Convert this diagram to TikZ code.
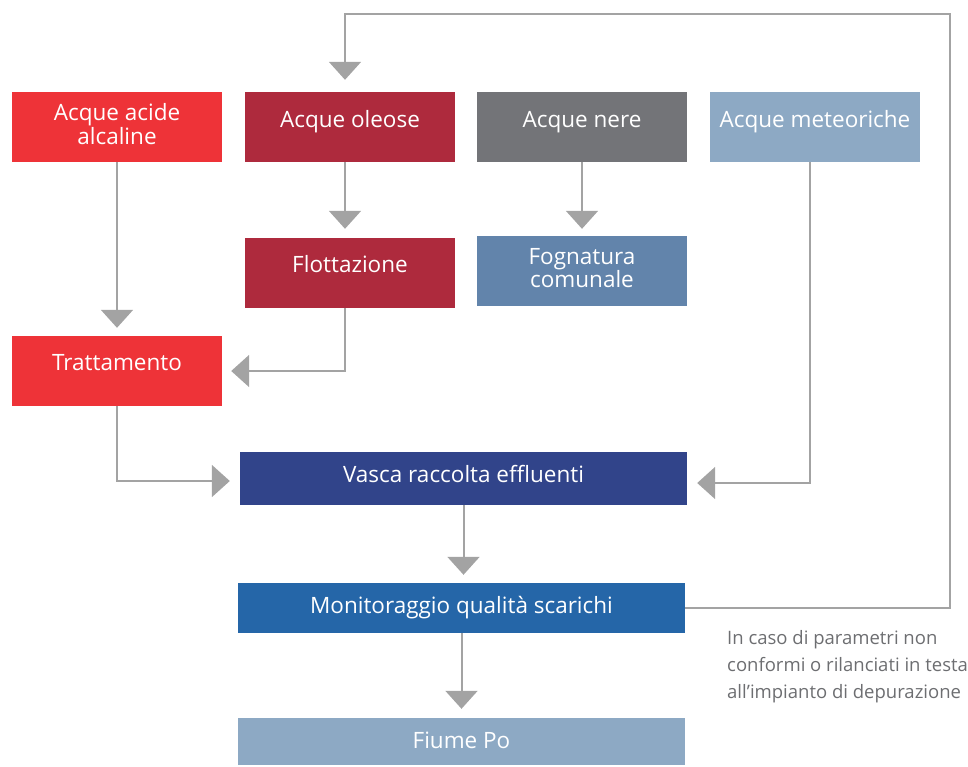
\documentclass[tikz,border=0pt]{standalone}
\usepackage{fontspec}
\setmainfont{Open Sans}
\usetikzlibrary{arrows.meta}
\definecolor{cred}{HTML}{EE3338}
\definecolor{cdred}{HTML}{AE2A3D}
\definecolor{cgray}{HTML}{737478}
\definecolor{clblue}{HTML}{8DA9C4}
\definecolor{cmblue}{HTML}{6284AB}
\definecolor{cnavy}{HTML}{31448A}
\definecolor{cblue}{HTML}{2566A8}
\definecolor{arrgray}{HTML}{A3A3A3}
\definecolor{annot}{HTML}{6D6E71}
\begin{document}
\begin{tikzpicture}[x=1pt,y=-1pt,
  box/.style={rectangle, inner sep=0pt, text=white, font=\fontsize{22.5}{22}\selectfont, align=center, text height=15pt},
  twoline/.style={text height=37pt},
  smallbox/.style={box, minimum width=210pt, minimum height=70pt},
  widebox/.style={box, minimum width=447pt},
  conn/.style={draw=arrgray, line width=2pt, -{Triangle[length=18pt,width=32pt]}},
  notestyle/.style={anchor=north west, align=left, inner sep=0pt, text=annot, font=\fontsize{18.5}{27}\selectfont}
]
\useasboundingbox (0,0) rectangle (968,766);

\node[smallbox, twoline, fill=cred, text depth=3pt] (acide) at (117,127) {Acque acide\\alcaline};
\node[smallbox, fill=cdred, text depth=15pt] (oleose) at (350,127) {Acque oleose};
\node[smallbox, fill=cgray, text depth=15pt] (nere) at (582,127) {Acque nere};
\node[smallbox, fill=clblue, text depth=15pt] (meteo) at (815,127) {Acque meteoriche};
\node[smallbox, fill=cdred, text depth=17pt] (flott) at (350,273) {Flottazione};
\node[smallbox, twoline, fill=cmblue, text depth=4pt] (fogna) at (582,271) {Fognatura\\comunale};
\node[smallbox, fill=cred, text depth=17pt] (tratt) at (117,371) {Trattamento};
\node[widebox, fill=cnavy, minimum height=53pt, text depth=8pt] (vasca) at (463.5,478.5) {Vasca raccolta effluenti};
\node[widebox, fill=cblue, minimum height=50pt, text depth=5pt] (monit) at (461.5,608) {Monitoraggio qualità scarichi};
\node[widebox, fill=clblue, minimum height=47pt, text depth=2pt] (fiume) at (461.5,741.5) {Fiume Po};

\node[notestyle] (note) at (727,630) {In caso di parametri non\\conformi o rilanciati in testa\\all’impianto di depurazione};

\coordinate (fbA) at (950,608);
\coordinate (fbB) at (950,14);
\coordinate (fbC) at (345,14);

\draw[conn, shorten >=8pt] (acide.south) -- (tratt.north);
\draw[conn, shorten >=9pt] ([xshift=-5pt]oleose.south) -- ([xshift=-5pt]flott.north);
\draw[conn, shorten >=7pt] (nere.south) -- (fogna.north);
\draw[conn, shorten >=9pt] ([xshift=-5pt]flott.south) |- (tratt.east);
\draw[conn, shorten >=10pt] (tratt.south) |- ([yshift=-2.5pt]vasca.west);
\draw[conn, shorten >=10pt] ([xshift=-5pt]meteo.south) |- ([yshift=-4.5pt]vasca.east);
\draw[conn, shorten >=8pt] (vasca.south) -- (vasca.south |- monit.north);
\draw[conn, shorten >=9pt] (monit.south) -- (monit.south |- fiume.north);
\draw[conn, shorten >=12pt] (monit.east) -- (fbA) -- (fbB) -- (fbC) -- ([xshift=-5pt]oleose.north);
\end{tikzpicture}
\end{document}
